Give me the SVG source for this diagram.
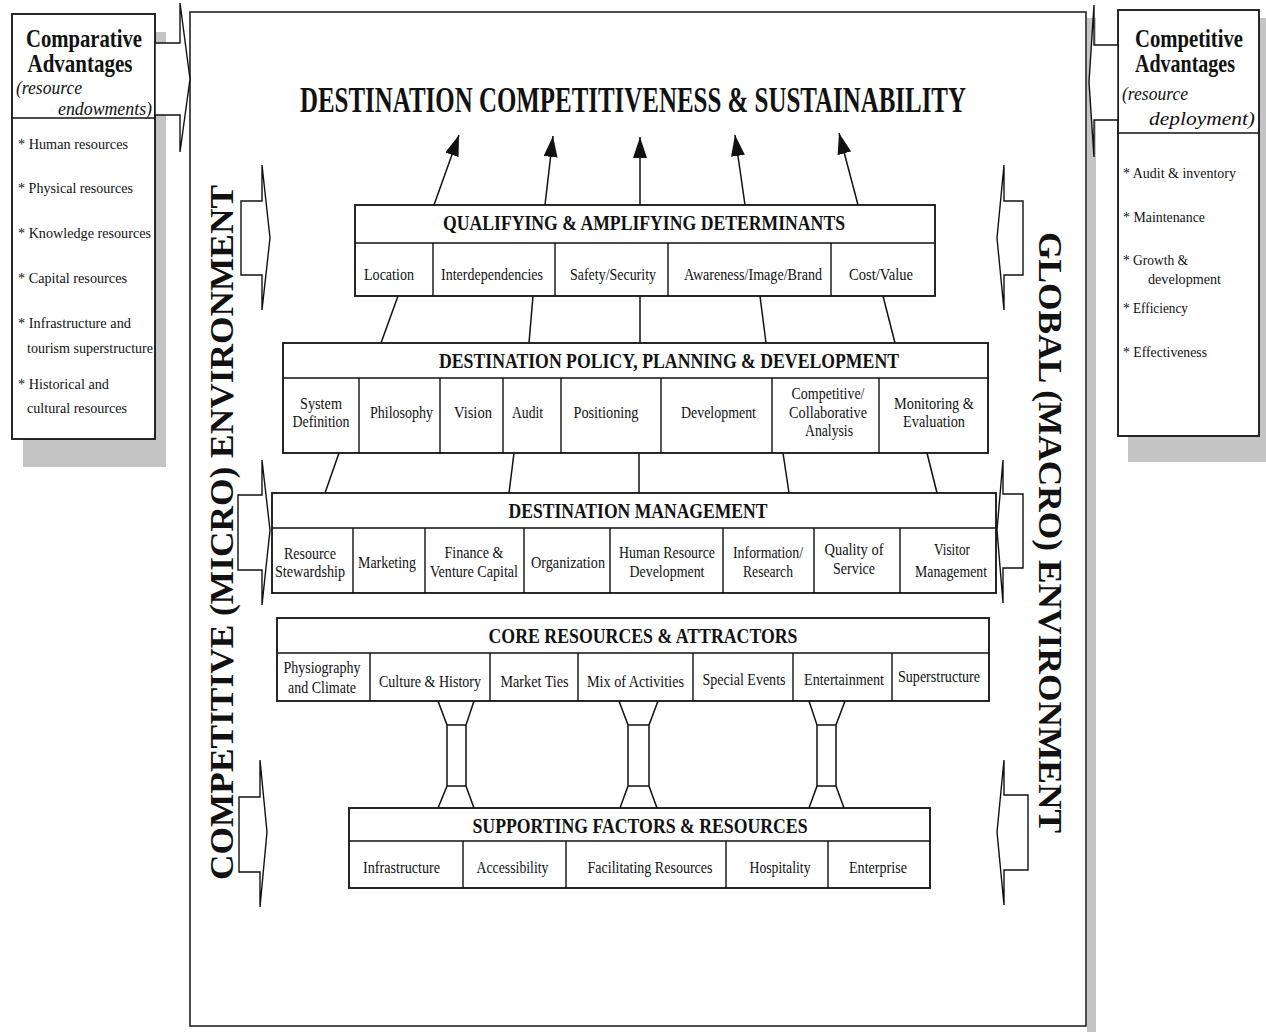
<svg xmlns="http://www.w3.org/2000/svg" width="1266" height="1032" viewBox="0 0 1266 1032">
<defs>
<style>
.t{font-family:"Liberation Serif","Times New Roman",serif;fill:#111}
.hd{font-size:22px;font-weight:bold;text-anchor:middle}
.lb{font-size:17px;text-anchor:middle}
.it{font-size:15px}
.bx{fill:#fff;stroke:#111;stroke-width:1.8}
.dv{stroke:#111;stroke-width:1.4;fill:none}
.ln{stroke:#111;stroke-width:1.5;fill:none}
.ba{fill:#fff;stroke:#111;stroke-width:1.4;stroke-linejoin:miter}
.sh{fill:#c4c4c4}
.vt{font-size:34px;font-weight:bold;text-anchor:middle}
</style>
<marker id="ah" markerUnits="userSpaceOnUse" markerWidth="22" markerHeight="14" refX="21" refY="7" orient="auto">
<path d="M0,0 L21,7 L0,14 z" fill="#111"/>
</marker>
</defs>
<rect width="1266" height="1032" fill="#fff"/>

<!-- main frame -->
<g id="frame">
<rect class="sh" x="1087" y="18" width="9" height="1014"/>
<rect x="190" y="12" width="896" height="1014" fill="#fff" stroke="#222" stroke-width="1.6"/>
</g>

<!-- left side box -->
<g id="comparative-advantages">
<rect class="sh" x="23" y="32" width="143" height="435"/>
<rect class="bx" x="12" y="14" width="143" height="425"/>
<line class="dv" x1="12" y1="118" x2="155" y2="118"/>
<text class="t" x="84" y="47" font-size="25" font-weight="bold" text-anchor="middle" textLength="116" lengthAdjust="spacingAndGlyphs">Comparative</text>
<text class="t" x="80" y="72" font-size="25" font-weight="bold" text-anchor="middle" textLength="105" lengthAdjust="spacingAndGlyphs">Advantages</text>
<text class="t" x="16" y="94" font-size="19" font-style="italic" textLength="66" lengthAdjust="spacingAndGlyphs">(resource</text>
<text class="t" x="152" y="115" font-size="19" font-style="italic" text-anchor="end" textLength="94" lengthAdjust="spacingAndGlyphs">endowments)</text>
<text class="t it" x="18" y="149" textLength="110" lengthAdjust="spacingAndGlyphs">* Human resources</text>
<text class="t it" x="18" y="193" textLength="115" lengthAdjust="spacingAndGlyphs">* Physical resources</text>
<text class="t it" x="18" y="238" textLength="133" lengthAdjust="spacingAndGlyphs">* Knowledge resources</text>
<text class="t it" x="18" y="283" textLength="109" lengthAdjust="spacingAndGlyphs">* Capital resources</text>
<text class="t it" x="18" y="328" textLength="113" lengthAdjust="spacingAndGlyphs">* Infrastructure and</text>
<text class="t it" x="27" y="353" textLength="126" lengthAdjust="spacingAndGlyphs">tourism superstructure</text>
<text class="t it" x="18" y="389" textLength="91" lengthAdjust="spacingAndGlyphs">* Historical and</text>
<text class="t it" x="27" y="413" textLength="100" lengthAdjust="spacingAndGlyphs">cultural resources</text>
</g>

<!-- right side box -->
<g id="competitive-advantages">
<rect class="sh" x="1128" y="18" width="138" height="444"/>
<rect class="bx" x="1118" y="10" width="141" height="426"/>
<line class="dv" x1="1118" y1="133" x2="1259" y2="133"/>
<text class="t" x="1189" y="47" font-size="25" font-weight="bold" text-anchor="middle" textLength="108" lengthAdjust="spacingAndGlyphs">Competitive</text>
<text class="t" x="1185" y="72" font-size="25" font-weight="bold" text-anchor="middle" textLength="100" lengthAdjust="spacingAndGlyphs">Advantages</text>
<text class="t" x="1122" y="100" font-size="18" font-style="italic" textLength="66" lengthAdjust="spacingAndGlyphs">(resource</text>
<text class="t" x="1255" y="125" font-size="18" font-style="italic" text-anchor="end" textLength="106" lengthAdjust="spacingAndGlyphs">deployment)</text>
<text class="t it" x="1123" y="178" textLength="113" lengthAdjust="spacingAndGlyphs">* Audit &amp; inventory</text>
<text class="t it" x="1123" y="222" textLength="82" lengthAdjust="spacingAndGlyphs">* Maintenance</text>
<text class="t it" x="1123" y="265" textLength="65" lengthAdjust="spacingAndGlyphs">* Growth &amp;</text>
<text class="t it" x="1148" y="284" textLength="73" lengthAdjust="spacingAndGlyphs">development</text>
<text class="t it" x="1123" y="313" textLength="65" lengthAdjust="spacingAndGlyphs">* Efficiency</text>
<text class="t it" x="1123" y="357" textLength="84" lengthAdjust="spacingAndGlyphs">* Effectiveness</text>
</g>

<!-- block arrows -->
<g id="side-arrows">
<polygon class="ba" points="155,43 180,43 180,3 190,79 180,152 180,115 155,115"/>
<polygon class="ba" points="1118,45 1094,45 1094,5 1089,82 1094,157 1094,120 1118,120"/>
<polygon class="ba" points="241,201 262,201 262,165 270,238 262,310 262,275 241,275"/>
<polygon class="ba" points="238,495 262,495 262,460 270,530 262,605 262,570 238,570"/>
<polygon class="ba" points="239,797 260,797 260,760 267,832 260,907 260,872 239,872"/>
<polygon class="ba" points="1023,201 1004,201 1004,165 997,238 1004,310 1004,275 1023,275"/>
<polygon class="ba" points="1023,494 1003,494 1003,460 997,530 1003,603 1003,568 1023,568"/>
<polygon class="ba" points="1028,795 1004,795 1004,760 997,832 1004,905 1004,870 1028,870"/>
</g>

<!-- environment labels -->
<text class="t vt" transform="translate(233,532.5) rotate(-90)" textLength="695" lengthAdjust="spacingAndGlyphs">COMPETITIVE (MICRO) ENVIRONMENT</text>
<text class="t vt" transform="translate(1039,532.5) rotate(90)" textLength="601" lengthAdjust="spacingAndGlyphs">GLOBAL (MACRO) ENVIRONMENT</text>

<!-- title -->
<g id="outcome">
<text class="t" x="633" y="112" font-size="35" font-weight="bold" text-anchor="middle" textLength="666" lengthAdjust="spacingAndGlyphs">DESTINATION COMPETITIVENESS &amp; SUSTAINABILITY</text>
</g>

<!-- connectors -->
<g id="connectors">
<line class="ln" x1="434" y1="205" x2="459" y2="135" marker-end="url(#ah)"/>
<line class="ln" x1="545" y1="205" x2="553" y2="136" marker-end="url(#ah)"/>
<line class="ln" x1="640" y1="205" x2="640" y2="137" marker-end="url(#ah)"/>
<line class="ln" x1="745" y1="205" x2="735" y2="135" marker-end="url(#ah)"/>
<line class="ln" x1="858" y1="205" x2="839" y2="133" marker-end="url(#ah)"/>
<line class="ln" x1="398" y1="296" x2="381" y2="343"/>
<line class="ln" x1="533" y1="296" x2="529" y2="343"/>
<line class="ln" x1="640" y1="296" x2="640" y2="343"/>
<line class="ln" x1="760" y1="296" x2="766" y2="343"/>
<line class="ln" x1="883" y1="296" x2="895" y2="343"/>
<line class="ln" x1="339" y1="453" x2="325" y2="493"/>
<line class="ln" x1="514" y1="453" x2="509" y2="493"/>
<line class="ln" x1="639" y1="453" x2="639" y2="493"/>
<line class="ln" x1="783" y1="453" x2="789" y2="493"/>
<line class="ln" x1="927" y1="453" x2="937" y2="493"/>
<path class="ln" d="M438,701 L447,725 L447,786 L438,808 M474,701 L466,725 L466,786 L474,808 M447,725 H466 M447,786 H466"/>
<path class="ln" d="M619,701 L628,725 L628,786 L620,808 M658,701 L649,725 L649,786 L657,808 M628,725 H649 M628,786 H649"/>
<path class="ln" d="M809,701 L817,725 L817,786 L809,808 M845,701 L836,725 L836,786 L844,808 M817,725 H836 M817,786 H836"/>
</g>

<!-- Qualifying & amplifying determinants -->
<g id="qualifying">
<rect class="bx" x="355" y="205" width="580" height="91"/>
<path class="dv" d="M355,243 H935 M433,243 V296 M555,243 V296 M668,243 V296 M831,243 V296"/>
<text class="t hd" x="644" y="230" textLength="402" lengthAdjust="spacingAndGlyphs">QUALIFYING &amp; AMPLIFYING DETERMINANTS</text>
<text class="t lb" x="389" y="280" textLength="50" lengthAdjust="spacingAndGlyphs">Location</text>
<text class="t lb" x="492" y="280" textLength="102" lengthAdjust="spacingAndGlyphs">Interdependencies</text>
<text class="t lb" x="613" y="280" textLength="86" lengthAdjust="spacingAndGlyphs">Safety/Security</text>
<text class="t lb" x="753" y="280" textLength="138" lengthAdjust="spacingAndGlyphs">Awareness/Image/Brand</text>
<text class="t lb" x="881" y="280" textLength="64" lengthAdjust="spacingAndGlyphs">Cost/Value</text>
</g>

<!-- Destination policy, planning & development -->
<g id="policy">
<rect class="bx" x="283" y="343" width="705" height="110"/>
<path class="dv" d="M283,378 H988 M359,378 V453 M440,378 V453 M503,378 V453 M561,378 V453 M661,378 V453 M772,378 V453 M879,378 V453"/>
<text class="t hd" x="669" y="368" textLength="460" lengthAdjust="spacingAndGlyphs">DESTINATION POLICY, PLANNING &amp; DEVELOPMENT</text>
<text class="t lb" x="321" y="409" textLength="42" lengthAdjust="spacingAndGlyphs">System</text>
<text class="t lb" x="321" y="427" textLength="57" lengthAdjust="spacingAndGlyphs">Definition</text>
<text class="t lb" x="401.5" y="418" textLength="63" lengthAdjust="spacingAndGlyphs">Philosophy</text>
<text class="t lb" x="473" y="418" textLength="38" lengthAdjust="spacingAndGlyphs">Vision</text>
<text class="t lb" x="527.5" y="418" textLength="31" lengthAdjust="spacingAndGlyphs">Audit</text>
<text class="t lb" x="606" y="418" textLength="65" lengthAdjust="spacingAndGlyphs">Positioning</text>
<text class="t lb" x="718.5" y="418" textLength="75" lengthAdjust="spacingAndGlyphs">Development</text>
<text class="t lb" x="828" y="399" textLength="73" lengthAdjust="spacingAndGlyphs">Competitive/</text>
<text class="t lb" x="828" y="418" textLength="78" lengthAdjust="spacingAndGlyphs">Collaborative</text>
<text class="t lb" x="829" y="436" textLength="48" lengthAdjust="spacingAndGlyphs">Analysis</text>
<text class="t lb" x="934" y="409" textLength="80" lengthAdjust="spacingAndGlyphs">Monitoring &amp;</text>
<text class="t lb" x="934" y="427" textLength="62" lengthAdjust="spacingAndGlyphs">Evaluation</text>
</g>

<!-- Destination management -->
<g id="management">
<rect class="bx" x="272" y="493" width="724" height="100"/>
<path class="dv" d="M272,528 H996 M353,528 V593 M425,528 V593 M524,528 V593 M610,528 V593 M723,528 V593 M814,528 V593 M900,528 V593"/>
<text class="t hd" x="638" y="518" textLength="259" lengthAdjust="spacingAndGlyphs">DESTINATION MANAGEMENT</text>
<text class="t lb" x="310" y="559" textLength="52" lengthAdjust="spacingAndGlyphs">Resource</text>
<text class="t lb" x="310" y="577" textLength="70" lengthAdjust="spacingAndGlyphs">Stewardship</text>
<text class="t lb" x="387" y="568" textLength="58" lengthAdjust="spacingAndGlyphs">Marketing</text>
<text class="t lb" x="474" y="558" textLength="59" lengthAdjust="spacingAndGlyphs">Finance &amp;</text>
<text class="t lb" x="474" y="577" textLength="88" lengthAdjust="spacingAndGlyphs">Venture Capital</text>
<text class="t lb" x="568" y="568" textLength="74" lengthAdjust="spacingAndGlyphs">Organization</text>
<text class="t lb" x="667" y="558" textLength="96" lengthAdjust="spacingAndGlyphs">Human Resource</text>
<text class="t lb" x="667" y="577" textLength="75" lengthAdjust="spacingAndGlyphs">Development</text>
<text class="t lb" x="768" y="558" textLength="70" lengthAdjust="spacingAndGlyphs">Information/</text>
<text class="t lb" x="768" y="577" textLength="50" lengthAdjust="spacingAndGlyphs">Research</text>
<text class="t lb" x="854" y="555" textLength="59" lengthAdjust="spacingAndGlyphs">Quality of</text>
<text class="t lb" x="854" y="574" textLength="42" lengthAdjust="spacingAndGlyphs">Service</text>
<text class="t lb" x="952" y="555" textLength="36" lengthAdjust="spacingAndGlyphs">Visitor</text>
<text class="t lb" x="951" y="577" textLength="72" lengthAdjust="spacingAndGlyphs">Management</text>
</g>

<!-- Core resources & attractors -->
<g id="core">
<rect class="bx" x="277" y="618" width="712" height="83"/>
<path class="dv" d="M277,653 H989 M370,653 V701 M490,653 V701 M578,653 V701 M693,653 V701 M793,653 V701 M892,653 V701"/>
<text class="t hd" x="643" y="643" textLength="309" lengthAdjust="spacingAndGlyphs">CORE RESOURCES &amp; ATTRACTORS</text>
<text class="t lb" x="322" y="673" textLength="77" lengthAdjust="spacingAndGlyphs">Physiography</text>
<text class="t lb" x="322" y="693" textLength="68" lengthAdjust="spacingAndGlyphs">and Climate</text>
<text class="t lb" x="430" y="687" textLength="102" lengthAdjust="spacingAndGlyphs">Culture &amp; History</text>
<text class="t lb" x="534.5" y="687" textLength="68" lengthAdjust="spacingAndGlyphs">Market Ties</text>
<text class="t lb" x="635.5" y="687" textLength="97" lengthAdjust="spacingAndGlyphs">Mix of Activities</text>
<text class="t lb" x="744" y="685" textLength="83" lengthAdjust="spacingAndGlyphs">Special Events</text>
<text class="t lb" x="844" y="685" textLength="80" lengthAdjust="spacingAndGlyphs">Entertainment</text>
<text class="t lb" x="939" y="682" textLength="82" lengthAdjust="spacingAndGlyphs">Superstructure</text>
</g>

<!-- Supporting factors & resources -->
<g id="supporting">
<rect class="bx" x="349" y="808" width="581" height="80"/>
<path class="dv" d="M349,841 H930 M463,841 V888 M566,841 V888 M726,841 V888 M828,841 V888"/>
<text class="t hd" x="640" y="833" textLength="335" lengthAdjust="spacingAndGlyphs">SUPPORTING FACTORS &amp; RESOURCES</text>
<text class="t lb" x="401.5" y="873" textLength="77" lengthAdjust="spacingAndGlyphs">Infrastructure</text>
<text class="t lb" x="512.5" y="873" textLength="72" lengthAdjust="spacingAndGlyphs">Accessibility</text>
<text class="t lb" x="650" y="873" textLength="125" lengthAdjust="spacingAndGlyphs">Facilitating Resources</text>
<text class="t lb" x="780" y="873" textLength="61" lengthAdjust="spacingAndGlyphs">Hospitality</text>
<text class="t lb" x="878" y="873" textLength="58" lengthAdjust="spacingAndGlyphs">Enterprise</text>
</g>
</svg>
